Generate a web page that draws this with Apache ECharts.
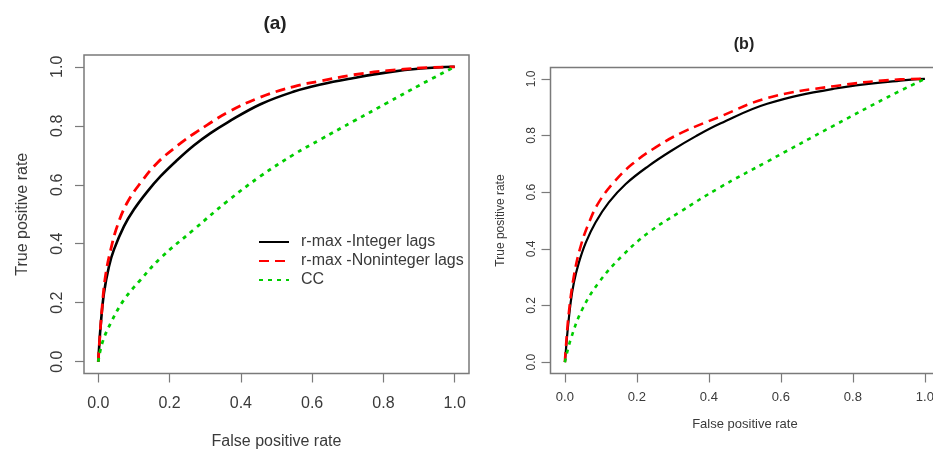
<!DOCTYPE html>
<html>
<head>
<meta charset="utf-8">
<script src="https://cdn.jsdelivr.net/npm/echarts@6/dist/echarts.min.js"></script>
<style>
  html, body { margin: 0; padding: 0; background: #fff; }
  #chart { width: 933px; height: 450px; }
</style>
</head>
<body>
<div id="chart"></div>
<script>
// ROC curves: r-max with integer / non-integer lags versus CC, two scenarios (a) and (b)

const seriesNames = ['r-max -Integer lags', 'r-max -Noninteger lags', 'CC'];
const tickValues = [0, 0.2, 0.4, 0.6, 0.8, 1.0];
const tickLabels = ['0.0', '0.2', '0.4', '0.6', '0.8', '1.0'];

// Panel (a)
const aIntFpr = [0, 0.002, 0.0065, 0.016, 0.03, 0.044, 0.072, 0.10, 0.137, 0.175, 0.22, 0.268, 0.315, 0.362, 0.455, 0.549, 0.624, 0.717, 0.811, 0.905, 1.0];
const aIntTpr = [0, 0.04, 0.119, 0.233, 0.323, 0.38, 0.459, 0.516, 0.576, 0.629, 0.682, 0.733, 0.775, 0.811, 0.873, 0.916, 0.940, 0.962, 0.981, 0.994, 1.0];
const aNonFpr = [0, 0.003, 0.011, 0.02, 0.035, 0.053, 0.081, 0.119, 0.166, 0.231, 0.268, 0.306, 0.362, 0.455, 0.549, 0.624, 0.717, 0.811, 0.905, 1.0];
const aNonTpr = [0, 0.06, 0.187, 0.289, 0.38, 0.459, 0.539, 0.607, 0.675, 0.741, 0.773, 0.803, 0.845, 0.897, 0.933, 0.952, 0.973, 0.987, 0.996, 1.0];
const aCCFpr = [0, 0.011, 0.035, 0.072, 0.119, 0.175, 0.268, 0.362, 0.455, 0.549, 0.624, 0.717, 0.811, 0.905, 1.0];
const aCCTpr = [0, 0.063, 0.131, 0.21, 0.278, 0.352, 0.448, 0.544, 0.629, 0.703, 0.754, 0.816, 0.878, 0.940, 1.0];

// Panel (b)
const bIntFpr = [0, 0.002, 0.007, 0.016, 0.025, 0.039, 0.058, 0.085, 0.122, 0.169, 0.233, 0.298, 0.363, 0.433, 0.562, 0.747, 0.932, 1.0];
const bIntTpr = [0, 0.03, 0.104, 0.21, 0.281, 0.352, 0.422, 0.493, 0.564, 0.629, 0.693, 0.748, 0.797, 0.843, 0.912, 0.965, 0.994, 1.0];
const bNonFpr = [0, 0.002, 0.011, 0.025, 0.044, 0.067, 0.094, 0.136, 0.187, 0.252, 0.326, 0.428, 0.562, 0.747, 0.932, 1.0];
const bNonTpr = [0, 0.04, 0.175, 0.304, 0.41, 0.493, 0.564, 0.635, 0.699, 0.758, 0.811, 0.865, 0.932, 0.974, 0.998, 1.0];
const bCCFpr = [0, 0.016, 0.048, 0.094, 0.159, 0.233, 0.317, 0.428, 0.562, 0.747, 0.896, 1.0];
const bCCTpr = [0, 0.08, 0.186, 0.281, 0.375, 0.458, 0.528, 0.615, 0.708, 0.835, 0.935, 1.0];

const FONT = '"Liberation Sans", Arial, sans-serif';
const TEXT = '#3a3a3a';
const FRAME = '#7a7a7a';

function zip(xs, ys) { return xs.map((x, i) => [x, ys[i]]); }

function fmt(v) {
  const i = tickValues.findIndex(t => Math.abs(t - v) < 1e-9);
  return i >= 0 ? tickLabels[i] : '';
}

function makeAxis(gridIndex, name, fontSize, titleSize, labelMargin, nameGap, rotateLabel) {
  return {
    type: 'value', gridIndex, min: -0.04, max: 1.04,
    name, nameLocation: 'middle', nameGap, nameMoveOverlap: false,
    nameTextStyle: { fontFamily: FONT, fontSize: titleSize, color: TEXT },
    axisLine: { show: false, onZero: false },
    splitLine: { show: false },
    axisTick: { show: true, inside: false, customValues: tickValues, length: 9, lineStyle: { color: FRAME, width: 1.2 } },
    axisLabel: {
      show: true, customValues: tickValues, formatter: fmt, margin: labelMargin,
      rotate: rotateLabel ? 90 : 0, hideOverlap: false,
      fontFamily: FONT, fontSize, color: TEXT
    }
  };
}

const styles = [
  { color: '#000000', type: 'solid' },
  { color: '#ff0000', type: [10, 6] },
  { color: '#00cd00', type: [4, 5] }
];

function makeSeries(name, idx, data, gi, width) {
  return {
    name, type: 'line', xAxisIndex: gi, yAxisIndex: gi,
    data, symbol: 'none', smooth: 0.4,
    lineStyle: { color: styles[idx].color, type: styles[idx].type, width, cap: 'butt' },
    itemStyle: { color: styles[idx].color },
    z: 2 + idx
  };
}

const chart = echarts.init(document.getElementById('chart'), null, { renderer: 'canvas' });

chart.setOption({
  animation: false,
  backgroundColor: '#ffffff',
  title: [
    { text: '(a)', left: 275, top: 14, textAlign: 'center', padding: 0,
      textStyle: { fontFamily: FONT, fontSize: 19, fontWeight: 'bold', color: '#222' } },
    { text: '(b)', left: 744, top: 37, textAlign: 'center', padding: 0,
      textStyle: { fontFamily: FONT, fontSize: 16, fontWeight: 'bold', color: '#222' } }
  ],
  grid: [
    { left: 84, top: 55, width: 385, height: 318.5, outerBoundsMode: 'none', containLabel: false,
      show: true, borderColor: FRAME, borderWidth: 1.5, backgroundColor: 'transparent' },
    { left: 550.5, top: 67.5, width: 388.8, height: 306, outerBoundsMode: 'none', containLabel: false,
      show: true, borderColor: FRAME, borderWidth: 1.5, backgroundColor: 'transparent' }
  ],
  legend: {
    orient: 'vertical', left: 253, top: 229,
    data: seriesNames,
    itemWidth: 30, itemHeight: 12, itemGap: 3,
    itemStyle: { opacity: 0 },
    textStyle: { fontFamily: FONT, fontSize: 16, color: TEXT, lineHeight: 16, padding: [0, 0, 0, 7] },
    selectedMode: false
  },
  xAxis: [
    makeAxis(0, 'False positive rate', 16, 16, 22.5, 60.5, false),
    makeAxis(1, 'False positive rate', 13, 13, 17, 44, false)
  ],
  yAxis: [
    makeAxis(0, 'True positive rate', 16, 16, 18, 53, true),
    makeAxis(1, 'True positive rate', 12, 12, 13, 44, true)
  ],
  series: [
    makeSeries(seriesNames[0], 0, zip(aIntFpr, aIntTpr), 0, 2.6),
    makeSeries(seriesNames[1], 1, zip(aNonFpr, aNonTpr), 0, 2.8),
    makeSeries(seriesNames[2], 2, zip(aCCFpr, aCCTpr), 0, 2.8),
    makeSeries(seriesNames[0], 0, zip(bIntFpr, bIntTpr), 1, 2.2),
    makeSeries(seriesNames[1], 1, zip(bNonFpr, bNonTpr), 1, 2.6),
    makeSeries(seriesNames[2], 2, zip(bCCFpr, bCCTpr), 1, 2.6)
  ]
});
</script>
</body>
</html>
